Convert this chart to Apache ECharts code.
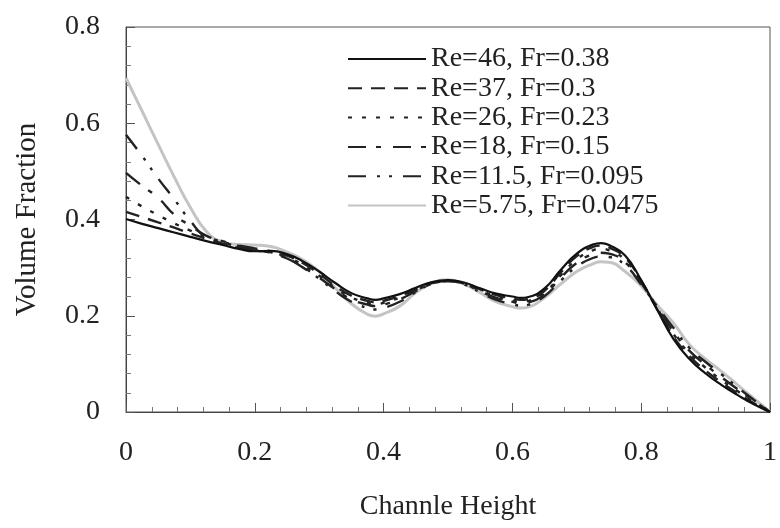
<!DOCTYPE html>
<html>
<head>
<meta charset="utf-8">
<script src="https://cdn.jsdelivr.net/npm/echarts@6/dist/echarts.min.js"></script>
<style>html,body{margin:0;padding:0;background:#fff;}#c{width:780px;height:528px;}</style>
</head>
<body>
<div id="c"></div>
<script>
var xValues = [0,0.025,0.05,0.075,0.1,0.125,0.15,0.175,0.2,0.225,0.25,0.275,0.3,0.325,0.35,0.375,0.3875,0.4,0.425,0.45,0.475,0.5,0.525,0.55,0.575,0.6,0.6125,0.625,0.65,0.675,0.7,0.725,0.7375,0.75,0.775,0.8,0.825,0.85,0.875,0.9,0.925,0.95,0.975,1];
var seriesNames = ['Re=46, Fr=0.38','Re=37, Fr=0.3','Re=26, Fr=0.23','Re=18, Fr=0.15','Re=11.5, Fr=0.095','Re=5.75, Fr=0.0475'];
var re46  = [0.401,0.391,0.382,0.373,0.364,0.355,0.347,0.339,0.334,0.335,0.328,0.313,0.292,0.268,0.247,0.236,0.233,0.236,0.245,0.258,0.270,0.274,0.269,0.257,0.246,0.240,0.237,0.239,0.257,0.295,0.329,0.348,0.351,0.347,0.325,0.274,0.212,0.152,0.110,0.080,0.056,0.035,0.016,0];
var re37  = [0.416,0.405,0.394,0.383,0.371,0.360,0.350,0.341,0.335,0.333,0.325,0.309,0.287,0.262,0.242,0.231,0.228,0.231,0.241,0.255,0.268,0.273,0.268,0.255,0.243,0.236,0.233,0.235,0.252,0.290,0.324,0.343,0.346,0.342,0.321,0.272,0.213,0.157,0.116,0.086,0.061,0.039,0.018,0];
var re26  = [0.447,0.427,0.409,0.392,0.377,0.364,0.353,0.343,0.336,0.332,0.322,0.305,0.283,0.258,0.238,0.227,0.224,0.227,0.238,0.253,0.267,0.273,0.267,0.253,0.240,0.232,0.229,0.231,0.248,0.284,0.317,0.336,0.339,0.336,0.316,0.270,0.215,0.162,0.122,0.092,0.066,0.043,0.020,0];
var re18  = [0.497,0.470,0.445,0.410,0.387,0.366,0.355,0.345,0.337,0.331,0.319,0.301,0.279,0.255,0.234,0.223,0.220,0.223,0.234,0.251,0.266,0.272,0.266,0.251,0.237,0.229,0.226,0.228,0.245,0.279,0.310,0.328,0.331,0.329,0.311,0.268,0.217,0.167,0.127,0.098,0.072,0.047,0.023,0];
var re11  = [0.576,0.532,0.485,0.442,0.397,0.362,0.353,0.346,0.340,0.334,0.320,0.300,0.277,0.251,0.229,0.216,0.213,0.216,0.229,0.249,0.266,0.272,0.265,0.249,0.233,0.224,0.221,0.223,0.241,0.273,0.302,0.320,0.323,0.322,0.305,0.265,0.219,0.175,0.133,0.104,0.078,0.051,0.025,0];
var re575 = [0.694,0.625,0.556,0.488,0.425,0.375,0.353,0.348,0.347,0.344,0.332,0.316,0.292,0.258,0.225,0.203,0.199,0.204,0.220,0.248,0.268,0.275,0.266,0.248,0.229,0.219,0.216,0.218,0.238,0.266,0.292,0.308,0.312,0.311,0.292,0.262,0.222,0.185,0.140,0.110,0.084,0.056,0.028,0];

var allData = [re46, re37, re26, re18, re11, re575];
var styles = [
  {color:'#111', width:2.2, type:'solid'},
  {color:'#222', width:2.4, type:[14,9]},
  {color:'#222', width:2.4, type:[4,10]},
  {color:'#222', width:2.4, type:[18,10,5,12]},
  {color:'#222', width:2.4, type:[18,11,3,9,3,11]},
  {color:'#c4c4c4', width:3, type:'solid'}
];
function pairs(arr){ return xValues.map(function(x,i){ return [x, arr[i]]; }); }
var font = 'Liberation Serif, Times New Roman, serif';
var series = allData.map(function(d,i){
  return {
    name: seriesNames[i], type:'line', data: pairs(d), smooth: 0.5, symbol:'none',
    lineStyle: {color: styles[i].color, width: styles[i].width, type: styles[i].type},
    itemStyle: {color: styles[i].color},
    z: 10 - i
  };
});
var chart = echarts.init(document.getElementById('c'), null, {renderer:'canvas'});
chart.setOption({
  animation: false,
  backgroundColor: '#fff',
  grid: {left:126, right:3, top:27, bottom:116, show:true, borderColor:'#555', borderWidth:1, backgroundColor:'transparent'},
  legend: {
    orient:'vertical', left:342, top:40, itemWidth:78, itemHeight:14, itemGap:1.3,
    itemStyle:{color:'transparent', borderColor:'transparent', borderWidth:0, opacity:0},
    textStyle:{fontFamily:font, fontSize:28, color:'#222', lineHeight:28},
    data: seriesNames
  },
  xAxis: {
    type:'value', min:0, max:1, interval:0.2,
    name:'Channle Height', nameLocation:'middle', nameGap:81,
    nameTextStyle:{fontFamily:font, fontSize:28, color:'#222'},
    axisLine:{show:true, lineStyle:{color:'#444', width:1}},
    axisTick:{show:true, inside:true, length:9, lineStyle:{color:'#555'}},
    minorTick:{show:true, splitNumber:5, length:5, lineStyle:{color:'#777'}},
    splitLine:{show:false},
    axisLabel:{fontFamily:font, fontSize:28, color:'#222', margin:27,
      formatter:function(v){ return String(Math.round(v*10)/10); }}
  },
  yAxis: {
    type:'value', min:0, max:0.8, interval:0.2,
    name:'Volume Fraction', nameLocation:'middle', nameGap:84, nameRotate:90,
    nameTextStyle:{fontFamily:font, fontSize:29, color:'#222'},
    axisLine:{show:true, lineStyle:{color:'#444', width:1}},
    axisTick:{show:true, inside:true, length:9, lineStyle:{color:'#555'}},
    minorTick:{show:true, splitNumber:5, length:5, lineStyle:{color:'#777'}},
    splitLine:{show:false},
    axisLabel:{fontFamily:font, fontSize:28, color:'#222', margin:26, padding:[0,0,6,0],
      formatter:function(v){ return String(Math.round(v*10)/10); }}
  },
  series: series
});
</script>
</body>
</html>
